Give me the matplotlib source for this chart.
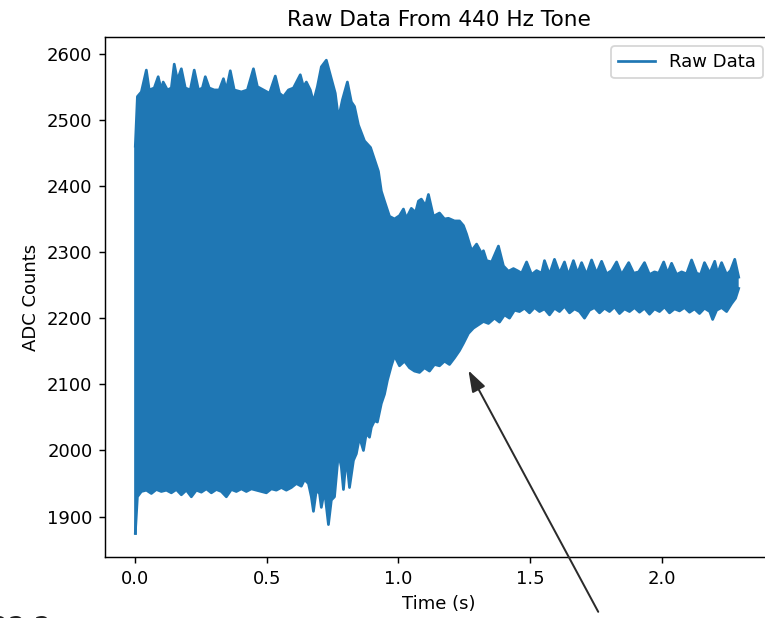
import matplotlib
matplotlib.use("Agg")
import matplotlib.pyplot as plt
import numpy as np

# envelope of the raw ADC trace (time in s, counts)
t_upper = [0.000, 0.008, 0.023, 0.042, 0.053, 0.072, 0.087, 0.099, 0.106, 0.122,
           0.137, 0.148, 0.160, 0.175, 0.190, 0.209, 0.224, 0.240, 0.255, 0.266,
           0.281, 0.300, 0.319, 0.335, 0.346, 0.361, 0.376, 0.403, 0.426, 0.449,
           0.464, 0.487, 0.510, 0.532, 0.548, 0.563, 0.582, 0.601, 0.627, 0.639,
           0.650, 0.665, 0.677, 0.692, 0.707, 0.726, 0.745, 0.760, 0.772, 0.787,
           0.806, 0.821, 0.833, 0.848, 0.871, 0.894, 0.909, 0.924, 0.935, 0.947,
           0.966, 0.985, 1.004, 1.019, 1.030, 1.049, 1.065, 1.076, 1.087, 1.103,
           1.114, 1.133, 1.156, 1.175, 1.190, 1.213, 1.232, 1.247, 1.259, 1.278,
           1.297, 1.316, 1.323, 1.335, 1.354, 1.380, 1.399, 1.418, 1.437, 1.456,
           1.468, 1.487, 1.506, 1.525, 1.544, 1.555, 1.574, 1.593, 1.612, 1.631,
           1.646, 1.665, 1.681, 1.696, 1.715, 1.734, 1.753, 1.772, 1.791, 1.810,
           1.829, 1.848, 1.875, 1.894, 1.913, 1.935, 1.954, 1.973, 1.989, 2.008,
           2.023, 2.038, 2.057, 2.076, 2.095, 2.114, 2.133, 2.148, 2.163, 2.183,
           2.202, 2.213, 2.228, 2.247, 2.262, 2.278, 2.293]
adc_upper = [2460, 2535, 2542, 2575, 2545, 2548, 2565, 2545, 2557, 2545,
             2548, 2584, 2560, 2577, 2548, 2545, 2575, 2545, 2548, 2565,
             2548, 2545, 2545, 2562, 2545, 2574, 2545, 2542, 2545, 2577,
             2550, 2545, 2540, 2566, 2540, 2535, 2545, 2548, 2568, 2550,
             2557, 2545, 2527, 2550, 2580, 2590, 2562, 2540, 2502, 2530,
             2557, 2527, 2520, 2492, 2468, 2458, 2440, 2422, 2392, 2377,
             2354, 2350, 2355, 2365, 2351, 2366, 2360, 2377, 2380, 2370,
             2387, 2354, 2359, 2350, 2351, 2347, 2347, 2340, 2327, 2302,
             2312, 2298, 2302, 2287, 2285, 2309, 2279, 2271, 2275, 2271,
             2268, 2285, 2266, 2272, 2268, 2287, 2266, 2289, 2268, 2285,
             2265, 2287, 2268, 2284, 2266, 2288, 2268, 2286, 2267, 2272,
             2285, 2266, 2284, 2268, 2270, 2284, 2266, 2270, 2268, 2285,
             2268, 2283, 2266, 2270, 2267, 2288, 2268, 2266, 2284, 2268,
             2286, 2268, 2284, 2266, 2272, 2289, 2262]

t_lower = [0.000, 0.008, 0.023, 0.042, 0.061, 0.080, 0.099, 0.118, 0.137, 0.156,
           0.175, 0.194, 0.213, 0.232, 0.251, 0.270, 0.289, 0.308, 0.327, 0.346,
           0.365, 0.384, 0.403, 0.422, 0.441, 0.460, 0.479, 0.498, 0.517, 0.536,
           0.555, 0.574, 0.593, 0.612, 0.631, 0.643, 0.658, 0.669, 0.677, 0.688,
           0.700, 0.707, 0.719, 0.734, 0.745, 0.757, 0.772, 0.783, 0.791, 0.802,
           0.814, 0.829, 0.840, 0.852, 0.867, 0.878, 0.890, 0.897, 0.909, 0.920,
           0.935, 0.947, 0.958, 0.973, 0.985, 1.004, 1.023, 1.042, 1.061, 1.080,
           1.099, 1.118, 1.137, 1.156, 1.175, 1.194, 1.213, 1.232, 1.247, 1.266,
           1.285, 1.304, 1.323, 1.342, 1.365, 1.384, 1.403, 1.422, 1.441, 1.460,
           1.479, 1.498, 1.517, 1.536, 1.555, 1.574, 1.593, 1.612, 1.631, 1.650,
           1.669, 1.688, 1.707, 1.726, 1.745, 1.764, 1.783, 1.802, 1.821, 1.840,
           1.859, 1.878, 1.897, 1.916, 1.935, 1.954, 1.973, 1.992, 2.011, 2.030,
           2.049, 2.068, 2.087, 2.106, 2.125, 2.144, 2.163, 2.183, 2.194, 2.209,
           2.228, 2.247, 2.266, 2.281, 2.293]
adc_lower = [1875, 1930, 1938, 1940, 1935, 1941, 1938, 1940, 1936, 1941,
             1933, 1940, 1930, 1940, 1937, 1942, 1936, 1941, 1938, 1930,
             1941, 1938, 1942, 1938, 1942, 1940, 1938, 1936, 1942, 1940,
             1944, 1940, 1944, 1950, 1946, 1956, 1950, 1930, 1908, 1940,
             1935, 1914, 1940, 1888, 1925, 1930, 1996, 1975, 1941, 1990,
             1944, 1985, 1995, 2020, 2000, 2026, 2020, 2035, 2045, 2043,
             2071, 2085, 2106, 2128, 2143, 2128, 2135, 2125, 2120, 2118,
             2125, 2120, 2130, 2128, 2135, 2130, 2140, 2151, 2162, 2177,
             2185, 2190, 2195, 2192, 2200, 2194, 2205, 2200, 2212, 2210,
             2215, 2208, 2216, 2210, 2214, 2205, 2215, 2210, 2218, 2208,
             2214, 2210, 2200, 2212, 2216, 2208, 2215, 2210, 2217, 2207,
             2214, 2210, 2216, 2209, 2215, 2206, 2214, 2210, 2217, 2208,
             2214, 2211, 2216, 2209, 2214, 2207, 2215, 2210, 2198, 2212,
             2216, 2210, 2222, 2230, 2245]

arrow_tip = (1.266, 2121)

color = "#1f77b4"
fig = plt.figure(figsize=(765 / 130, 618 / 130), dpi=130)
ax = fig.add_axes([0.1373, 0.0987, 0.872, 0.8414])

# the 440 Hz oscillation is too dense to resolve, so it shows as a solid band
ax.fill(np.concatenate([t_upper, t_lower[::-1]]),
        np.concatenate([adc_upper, adc_lower[::-1]]),
        color=color, lw=0)
ax.plot(t_upper, adc_upper, color=color, lw=1.5, label="Raw Data")
ax.plot(t_lower, adc_lower, color=color, lw=1.5)
ax.plot([0, 0], [adc_lower[0], adc_upper[0]], color=color, lw=1.5)

ax.set_xlim(-0.115, 2.42)
ax.set_ylim(1839, 2625)
ax.set_xticks([0.0, 0.5, 1.0, 1.5, 2.0])
ax.set_xlabel("Time (s)")
ax.set_ylabel("ADC Counts")
ax.set_title("Raw Data From 440 Hz Tone")
ax.legend(loc="upper right")

ax.annotate("", xy=arrow_tip, xycoords="data",
            xytext=(0.782, 0.01), textcoords="figure fraction",
            arrowprops=dict(arrowstyle="-|>,head_length=0.5,head_width=0.17",
                            color="#2b2b2b", lw=1.1, mutation_scale=20,
                            shrinkA=0, shrinkB=0),
            annotation_clip=False)

fig.text(-0.012, 0.004, "22.2", fontsize=15, va="top", color="#222222")

fig.savefig("out.png", dpi=130)
plt.close(fig)
